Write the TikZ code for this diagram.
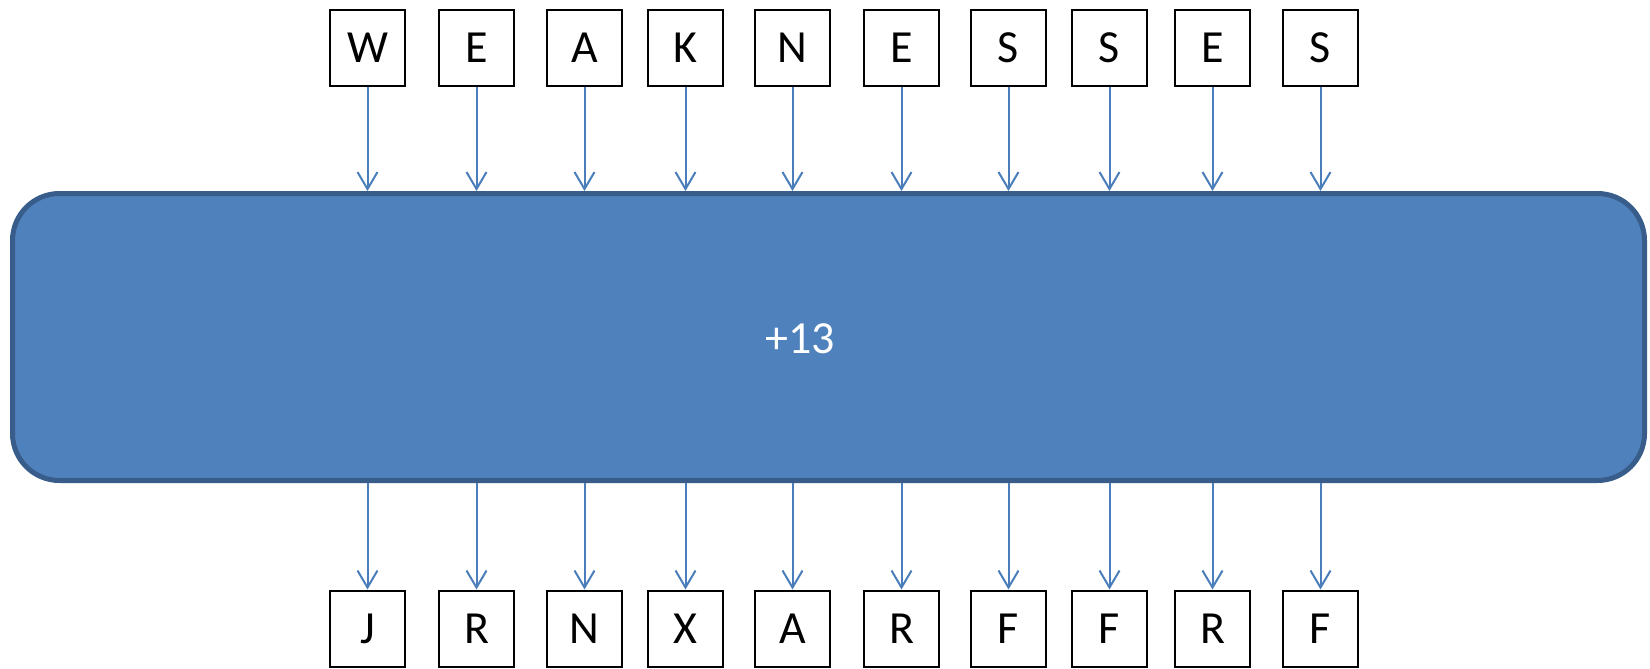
\documentclass[tikz,border=0pt]{standalone}
\usepackage{fontspec}
\setmainfont{Carlito}
\usepackage{tikz}
\usetikzlibrary{arrows.meta,positioning}
\definecolor{rotfill}{HTML}{4F81BD}
\definecolor{rotline}{HTML}{385D8A}
\definecolor{arrblue}{HTML}{4A7EBB}

\begin{document}
\begin{tikzpicture}[x=0.5pt,y=-0.5pt,
  letter/.style={draw,line width=1pt,minimum width=37.5pt,minimum height=38pt,inner sep=0pt,
    font=\fontsize{23}{27}\selectfont},
  rot/.style={draw=rotline,fill=rotfill,line width=2.5pt,rounded corners=23.5pt,
    minimum width=816pt,minimum height=143.5pt},
  arr/.style={arrblue,line width=1pt,-{Straight Barb[length=8.5pt,width=10pt]}}]
\useasboundingbox (0,0) rectangle (1650,669);
% plaintext row
\node[letter] (p1) at (367.5,47.5) {W};
\node[letter, right=16pt of p1] (p2) {E};
\node[letter, right=15.5pt of p2] (p3) {A};
\node[letter, right=12pt of p3] (p4) {K};
\node[letter, right=15pt of p4] (p5) {N};
\node[letter, right=16pt of p5] (p6) {E};
\node[letter, right=15pt of p6] (p7) {S};
\node[letter, right=12pt of p7] (p8) {S};
\node[letter, right=13pt of p8] (p9) {E};
\node[letter, right=15.5pt of p9] (p10) {S};
% the shift
\node[rot, label={[text=white,font=\fontsize{23}{27}\selectfont,xshift=-14.25pt,yshift=-1pt]center:+13}]
  (shift) at (828.5,337) {};
% ciphertext row
\node[letter, below=251.5pt of p1] (c1) {J};
\node[letter, below=251.5pt of p2] (c2) {R};
\node[letter, below=251.5pt of p3] (c3) {N};
\node[letter, below=251.5pt of p4] (c4) {X};
\node[letter, below=251.5pt of p5] (c5) {A};
\node[letter, below=251.5pt of p6] (c6) {R};
\node[letter, below=251.5pt of p7] (c7) {F};
\node[letter, below=251.5pt of p8] (c8) {F};
\node[letter, below=251.5pt of p9] (c9) {R};
\node[letter, below=251.5pt of p10] (c10) {F};
\draw[arr] (p1) -- (p1 |- shift.north);
\draw[arr] (p2) -- (p2 |- shift.north);
\draw[arr] (p3) -- (p3 |- shift.north);
\draw[arr] (p4) -- (p4 |- shift.north);
\draw[arr] (p5) -- (p5 |- shift.north);
\draw[arr] (p6) -- (p6 |- shift.north);
\draw[arr] (p7) -- (p7 |- shift.north);
\draw[arr] (p8) -- (p8 |- shift.north);
\draw[arr] (p9) -- (p9 |- shift.north);
\draw[arr] (p10) -- (p10 |- shift.north);
\draw[arr] (shift.south -| c1) -- (c1);
\draw[arr] (shift.south -| c2) -- (c2);
\draw[arr] (shift.south -| c3) -- (c3);
\draw[arr] (shift.south -| c4) -- (c4);
\draw[arr] (shift.south -| c5) -- (c5);
\draw[arr] (shift.south -| c6) -- (c6);
\draw[arr] (shift.south -| c7) -- (c7);
\draw[arr] (shift.south -| c8) -- (c8);
\draw[arr] (shift.south -| c9) -- (c9);
\draw[arr] (shift.south -| c10) -- (c10);
\end{tikzpicture}
\end{document}
